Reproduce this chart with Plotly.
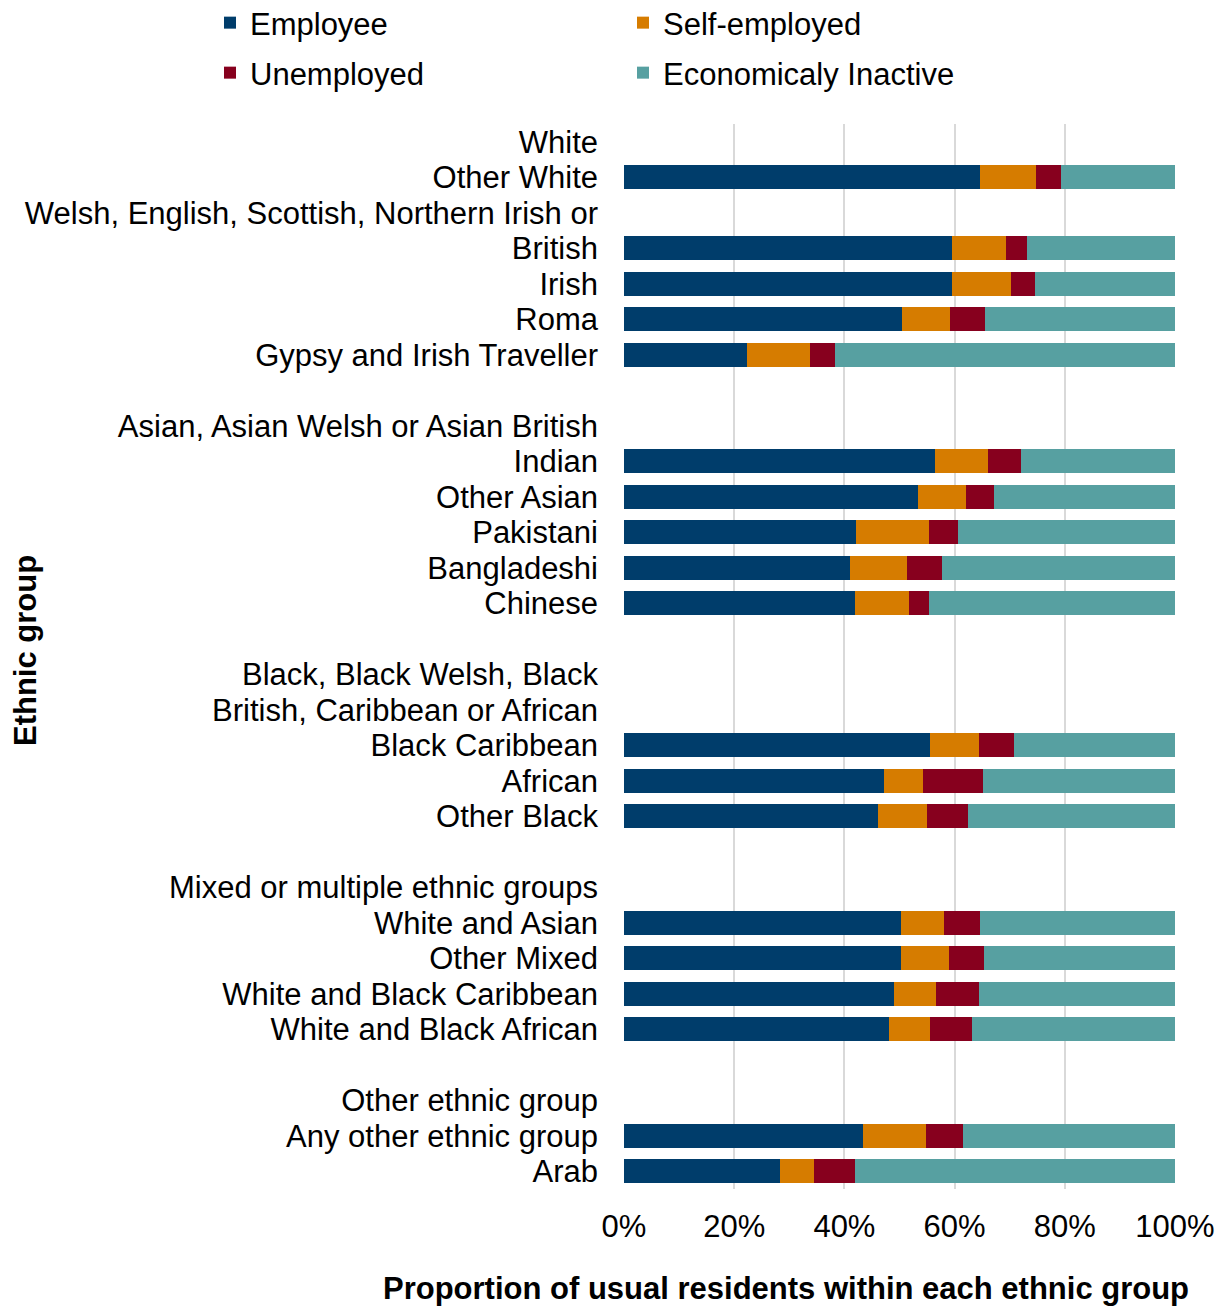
import plotly.graph_objects as go

categories = [
    "White", "Other White", "Welsh, English, Scottish, Northern Irish or", "British",
    "Irish", "Roma", "Gypsy and Irish Traveller", " ",
    "Asian, Asian Welsh or Asian British", "Indian", "Other Asian", "Pakistani",
    "Bangladeshi", "Chinese", "  ",
    "Black, Black Welsh, Black", "British, Caribbean or African", "Black Caribbean",
    "African", "Other Black", "   ",
    "Mixed or multiple ethnic groups", "White and Asian", "Other Mixed",
    "White and Black Caribbean", "White and Black African", "    ",
    "Other ethnic group", "Any other ethnic group", "Arab",
]

N = None
employee = [N, 64.6, N, 59.6, 59.5, 50.5, 22.3, N,
            N, 56.4, 53.4, 42.1, 41.1, 42.0, N,
            N, N, 55.5, 47.1, 46.1, N,
            N, 50.3, 50.3, 49.0, 48.1, N,
            N, 43.4, 28.4]
self_employed = [N, 10.1, N, 9.7, 10.8, 8.6, 11.5, N,
                 N, 9.7, 8.7, 13.2, 10.2, 9.8, N,
                 N, N, 8.9, 7.1, 8.9, N,
                 N, 7.8, 8.6, 7.6, 7.4, N,
                 N, 11.4, 6.1]
unemployed = [N, 4.7, N, 3.9, 4.2, 6.4, 4.5, N,
              N, 6.0, 5.1, 5.4, 6.5, 3.5, N,
              N, N, 6.3, 11.0, 7.5, N,
              N, 6.5, 6.5, 7.8, 7.7, N,
              N, 6.8, 7.5]
inactive = [N, 20.6, N, 26.8, 25.5, 34.5, 61.7, N,
            N, 27.9, 32.8, 39.3, 42.2, 44.7, N,
            N, N, 29.3, 34.8, 37.5, N,
            N, 35.4, 34.6, 35.6, 36.8, N,
            N, 38.4, 58.0]

series = [
    ("Employee", employee, "#003D6B", "legend"),
    ("Self-employed", self_employed, "#D67C00", "legend"),
    ("Unemployed", unemployed, "#87001E", "legend2"),
    ("Economicaly Inactive", inactive, "#57A0A1", "legend2"),
]

FONT = "Liberation Sans, Arial, sans-serif"
FS = 31

fig = go.Figure()
for name, vals, color, lg in series:
    fig.add_trace(go.Bar(
        y=categories, x=[None if v is None else v / 100 for v in vals],
        name=name, orientation="h", marker=dict(color=color, line=dict(width=0)),
        legend=lg,
    ))

# page body adds an 8px offset; work in screen pixels and subtract it
OFF = 8
W, H = 1224 - OFF, 1306 - OFF
L, T = 624 - OFF, 124 - OFF
pw = 1175 - 624
ph = 1189 - 124
R = W - L - pw
B = H - T - ph

def px_x(p):
    return (p - OFF - L) / pw

def px_y(p):
    return (T + ph - (p - OFF)) / ph

fig.update_layout(
    width=W, height=H, barmode="stack", bargap=0.33,
    margin=dict(l=L, r=R, t=T, b=B, autoexpand=False),
    paper_bgcolor="white", plot_bgcolor="white",
    font=dict(family=FONT, size=FS, color="black"),
    showlegend=True,
    legend=dict(orientation="h", x=px_x(210), y=px_y(23), xanchor="left", yanchor="middle",
                entrywidth=368, entrywidthmode="pixels", font=dict(size=FS),
                traceorder="normal", bgcolor="rgba(0,0,0,0)"),
    legend2=dict(orientation="h", x=px_x(210), y=px_y(73), xanchor="left", yanchor="middle",
                 entrywidth=368, entrywidthmode="pixels", font=dict(size=FS),
                 traceorder="normal", bgcolor="rgba(0,0,0,0)"),
    xaxis=dict(range=[0, 1], tickformat=".0%", tickvals=[0, 0.2, 0.4, 0.6, 0.8, 1.0],
               showgrid=True, gridcolor="#D9D9D9", gridwidth=1.5, zeroline=False,
               showline=False, ticks="", ticklabelstandoff=16,
               tickfont=dict(size=FS)),
    yaxis=dict(type="category", categoryorder="array", categoryarray=categories,
               tickmode="array", tickvals=categories, ticktext=categories,
               autorange="reversed", showgrid=False, showline=False, ticks="",
               ticklabelstandoff=25, tickfont=dict(size=FS)),
    annotations=[
        dict(text="<b>Ethnic group</b>", textangle=-90, xref="paper", yref="paper",
             x=px_x(25), y=px_y(651), xanchor="center", yanchor="middle",
             showarrow=False, font=dict(size=FS)),
        dict(text="<b>Proportion of usual residents within each ethnic group</b>",
             xref="paper", yref="paper", x=px_x(786), y=px_y(1288),
             xanchor="center", yanchor="middle", showarrow=False, font=dict(size=FS)),
    ],
)

fig.write_html("out.html")
